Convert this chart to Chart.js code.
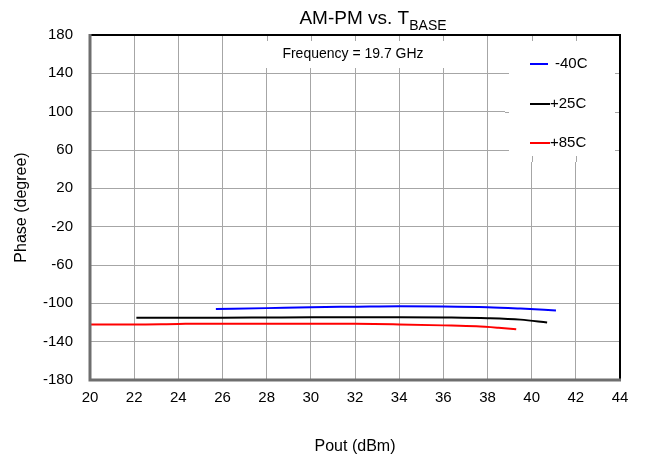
<!DOCTYPE html>
<html>
<head>
<meta charset="utf-8">
<script src="https://cdn.jsdelivr.net/npm/chart.js@4/dist/chart.umd.min.js"></script>
<style>
    html, body { margin: 0; padding: 0; background: #fff; }
    #wrap { width: 647px; height: 465px; position: relative; }
</style>
</head>
<body>
<div id="wrap"><canvas id="ampmChart" width="647" height="465"></canvas></div>
<script>
// AM-PM phase vs. output power at three base temperatures
const labels = ['-40C', '+25C', '+85C'];
const colors = ['#0000ff', '#000000', '#ff0000'];

const poutCold = [25.7, 28, 30, 32, 34, 36, 38, 39.5, 41.1];
const phaseCold = [-106, -105, -104, -103.5, -103, -103.2, -104, -105.5, -107.5];

const poutRoom = [22.1, 24, 26, 28, 30, 32, 34, 36, 38, 39.5, 40.7];
const phaseRoom = [-115, -115, -115, -114.8, -114.6, -114.5, -114.5, -114.8, -115.5, -117, -120];

const poutHot = [20, 22, 24, 26, 28, 30, 32, 34, 36, 37.5, 38.5, 39.3];
const phaseHot = [-122, -122, -121.5, -121.2, -121.2, -121.2, -121.3, -122, -123, -124, -125.5, -127];

const xTicks = [20, 22, 24, 26, 28, 30, 32, 34, 36, 38, 40, 42, 44];
const yTicks = [180, 140, 100, 60, 20, -20, -60, -100, -140, -180];

const FONT = '"Liberation Sans", Arial, sans-serif';

function toPoints(xs, ys) {
    return xs.map((x, i) => ({ x: x, y: ys[i] }));
}

// white boxes behind the legend and the frequency note, with the inner frame ticks kept
const boxesPlugin = {
    id: 'boxes',
    beforeDatasetsDraw(chart) {
        const { ctx, chartArea: a, scales } = chart;
        const xs = scales.x, ys = scales.y;
        const legendBox = { l: 505, t: a.top, r: a.right, b: 162 };
        const noteBox = { l: 252, t: a.top, r: 456, b: 68 };
        ctx.save();
        ctx.fillStyle = '#fff';
        [legendBox, noteBox].forEach(b => ctx.fillRect(b.l, b.t, b.r - b.l, b.b - b.t));
        ctx.strokeStyle = '#a6a6a6';
        ctx.lineWidth = 1;
        ctx.beginPath();
        xTicks.forEach(v => {
            const px = Math.round(xs.getPixelForValue(v)) + 0.5;
            if (px > noteBox.l && px < noteBox.r) { ctx.moveTo(px, a.top); ctx.lineTo(px, a.top + 6); }
            if (px > legendBox.l && px < legendBox.r) {
                ctx.moveTo(px, a.top); ctx.lineTo(px, a.top + 6);
                ctx.moveTo(px, legendBox.b); ctx.lineTo(px, legendBox.b - 6);
            }
        });
        yTicks.forEach(v => {
            const py = Math.round(ys.getPixelForValue(v)) + 0.5;
            if (py > legendBox.t + 2 && py < legendBox.b) {
                ctx.moveTo(legendBox.l, py); ctx.lineTo(legendBox.l + 4, py);
                ctx.moveTo(a.right, py); ctx.lineTo(a.right - 5, py);
            }
        });
        ctx.stroke();

        ctx.fillStyle = '#000';
        ctx.font = '14px ' + FONT;
        ctx.textAlign = 'center';
        ctx.textBaseline = 'middle';
        ctx.fillText('Frequency = 19.7 GHz', 353, 54);
        ctx.restore();
    },
    afterDraw(chart) {
        const { ctx, chartArea: a } = chart;
        ctx.save();
        // frame: grey left/bottom, black top/right
        ctx.lineWidth = 2;
        ctx.strokeStyle = '#000';
        ctx.beginPath();
        ctx.moveTo(a.left, a.top); ctx.lineTo(a.right, a.top); ctx.lineTo(a.right, a.bottom);
        ctx.stroke();
        ctx.lineWidth = 3;
        ctx.strokeStyle = '#6e6e6e';
        ctx.beginPath();
        ctx.moveTo(a.left, a.top - 1); ctx.lineTo(a.left, a.bottom); ctx.lineTo(a.right + 1, a.bottom);
        ctx.stroke();

        // legend
        const rows = [64, 104, 143];
        chart.data.datasets.forEach((ds, i) => {
            ctx.strokeStyle = ds.borderColor;
            ctx.lineWidth = 2;
            ctx.beginPath();
            const x1 = i === 0 ? 548 : 550;
            ctx.moveTo(530, rows[i]); ctx.lineTo(x1, rows[i]);
            ctx.stroke();
            ctx.fillStyle = '#000';
            ctx.font = '15px ' + FONT;
            ctx.textAlign = 'left';
            ctx.textBaseline = 'middle';
            ctx.fillText(ds.label, i === 0 ? 555 : 550, rows[i]);
        });

        // title with subscript
        ctx.fillStyle = '#000';
        ctx.textBaseline = 'alphabetic';
        ctx.textAlign = 'left';
        ctx.font = '19px ' + FONT;
        const main = 'AM-PM vs. T';
        ctx.font = '14px ' + FONT;
        const subW = ctx.measureText('BASE').width;
        ctx.font = '19px ' + FONT;
        const mainW = ctx.measureText(main).width;
        const start = 373 - (mainW + subW) / 2;
        ctx.fillText(main, start, 24);
        ctx.font = '14px ' + FONT;
        ctx.fillText('BASE', start + mainW, 30);
        ctx.restore();
    }
};

const ctx = document.getElementById('ampmChart').getContext('2d');
new Chart(ctx, {
    type: 'line',
    data: {
        datasets: [
            { label: labels[0], data: toPoints(poutCold, phaseCold), borderColor: colors[0] },
            { label: labels[1], data: toPoints(poutRoom, phaseRoom), borderColor: colors[1] },
            { label: labels[2], data: toPoints(poutHot, phaseHot), borderColor: colors[2] }
        ]
    },
    options: {
        responsive: false,
        animation: false,
        layout: { padding: { left: 0, right: 27, top: 35, bottom: 0 } },
        elements: {
            line: { borderWidth: 2, tension: 0, cubicInterpolationMode: 'monotone', fill: false },
            point: { radius: 0 }
        },
        scales: {
            x: {
                type: 'linear',
                min: 20,
                max: 44,
                afterBuildTicks: s => { s.ticks = xTicks.map(v => ({ value: v })); },
                afterFit: s => { s.height = 85; },
                grid: { color: '#a6a6a6', drawTicks: false },
                border: { display: false },
                ticks: { color: '#000', font: { family: FONT, size: 15 }, padding: 9, maxRotation: 0 },
                title: { display: true, text: 'Pout (dBm)', color: '#000', font: { family: FONT, size: 16 }, padding: { top: 0, bottom: 9 } }
            },
            y: {
                type: 'linear',
                min: -180,
                max: 180,
                afterBuildTicks: s => { s.ticks = yTicks.map(v => ({ value: v })); },
                afterFit: s => { s.width = 90; },
                grid: { color: '#a6a6a6', drawTicks: false },
                border: { display: false },
                ticks: { color: '#000', font: { family: FONT, size: 15 }, padding: 17 },
                title: { display: true, text: 'Phase (degree)', color: '#000', font: { family: FONT, size: 16 }, padding: { top: 12, bottom: 0 } }
            }
        },
        plugins: {
            legend: { display: false },
            tooltip: { enabled: false }
        }
    },
    plugins: [boxesPlugin]
});
</script>
</body>
</html>
